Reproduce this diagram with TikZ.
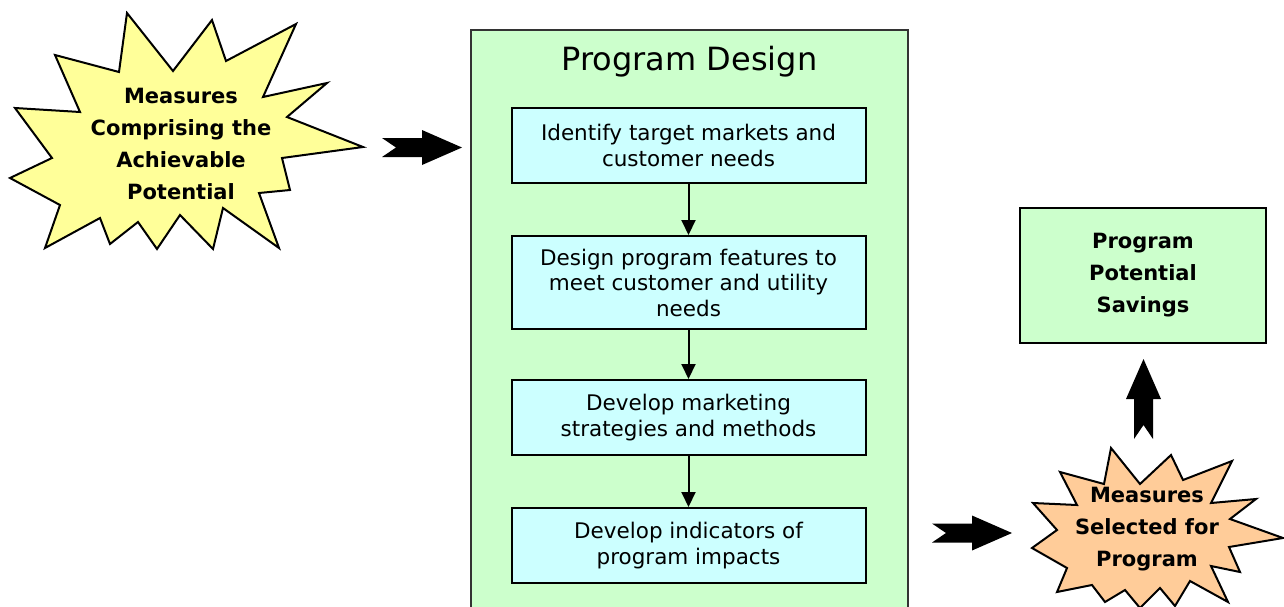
\documentclass[tikz,border=0pt]{standalone}
\usepackage{fontspec}
\setmainfont{DejaVu Sans}
\usepackage{xcolor}
\usepackage{tikz}
\usetikzlibrary{arrows.meta, positioning}

\definecolor{designgreen}{HTML}{CCFFCC}
\definecolor{stepcyan}{HTML}{CCFFFF}
\definecolor{burstyellow}{HTML}{FFFF99}
\definecolor{burstorange}{HTML}{FFCC99}

\tikzset{
  stepbox/.style={draw, line width=2pt, fill=stepcyan, minimum width=354pt,
    minimum height=75pt, align=center, font=\fontsize{21.5}{25.5}\selectfont},
  burst/.style={draw, line width=2pt, line join=miter},
  bursttext/.style={align=center, font=\bfseries\fontsize{21}{32}\selectfont},
  flow/.style={-{Triangle[length=15pt,width=14pt]}, line width=2pt},
  fatarrow/.pic={\fill (0,-9.5) -- (40,-9.5) -- (40,-17.5) -- (80,0) -- (40,17.5)
    -- (40,9.5) -- (0,9.5) -- (14,0) -- cycle;}
}

\begin{document}
\begin{tikzpicture}[x=1pt, y=-1pt]
\useasboundingbox (0,0) rectangle (1284,606);

% program design panel and its steps
\draw[line width=2pt, draw=black!80, fill=designgreen] (471,30) rectangle (908,640);
\node (design) at (689.5,62) {\fontsize{32}{36}\selectfont Program Design};

\node[stepbox] (identify) at (688.5,145.5) {Identify target markets and\\customer needs};
\node[stepbox, minimum height=93pt, below=51pt of identify] (features) {Design program features to\\meet customer and utility\\needs};
\node[stepbox, below=49pt of features] (marketing) {Develop marketing\\strategies and methods};
\node[stepbox, below=51pt of marketing] (indicators) {Develop indicators of\\program impacts};

\draw[flow] (identify) -- (features);
\draw[flow] (features) -- (marketing);
\draw[flow] (marketing) -- (indicators);

% input measures
\draw[burst, fill=burstyellow] (127,13) -- (173,71) -- (212,20) -- (226,61) -- (296,24)
  -- (263,97) -- (327,83) -- (287,117) -- (363,147) -- (282,158) -- (290,190)
  -- (259,193) -- (279,248) -- (223,208) -- (213,249) -- (180,215) -- (157,249)
  -- (138,222) -- (110,244) -- (100,218) -- (45,248) -- (60,205) -- (10,178)
  -- (52,158) -- (15,108) -- (80,112) -- (55,55) -- (119,72) -- cycle;
\node[bursttext] (achievable) at (181,143.5) {Measures\\Comprising the\\Achievable\\Potential};

% selected measures
\draw[burst, fill=burstorange] (1111,448) -- (1140,484) -- (1171,455) -- (1183,480)
  -- (1232,461) -- (1211,503) -- (1256,499) -- (1230,519) -- (1283,538) -- (1229,547)
  -- (1240,572) -- (1211,566) -- (1228,602) -- (1190,581) -- (1175,606) -- (1160,588)
  -- (1140,608) -- (1125,590) -- (1105,602) -- (1092,585) -- (1057,592) -- (1067,568)
  -- (1032,548) -- (1057,530) -- (1033,503) -- (1077,505) -- (1060,472) -- (1104,484)
  -- cycle;
\node[bursttext] (selected) at (1147,529.5) {Measures\\Selected for\\Program};

\node[draw, line width=2pt, fill=designgreen, minimum width=246pt, minimum height=135pt,
  align=center, font=\bfseries\fontsize{21}{32}\selectfont] (savings) at (1143,275.5)
  {Program\\Potential\\Savings};

\pic at (382,147.5) {fatarrow};
\pic at (932,533) {fatarrow};
\pic[rotate=90] at (1143.5,439) {fatarrow};
\end{tikzpicture}
\end{document}
